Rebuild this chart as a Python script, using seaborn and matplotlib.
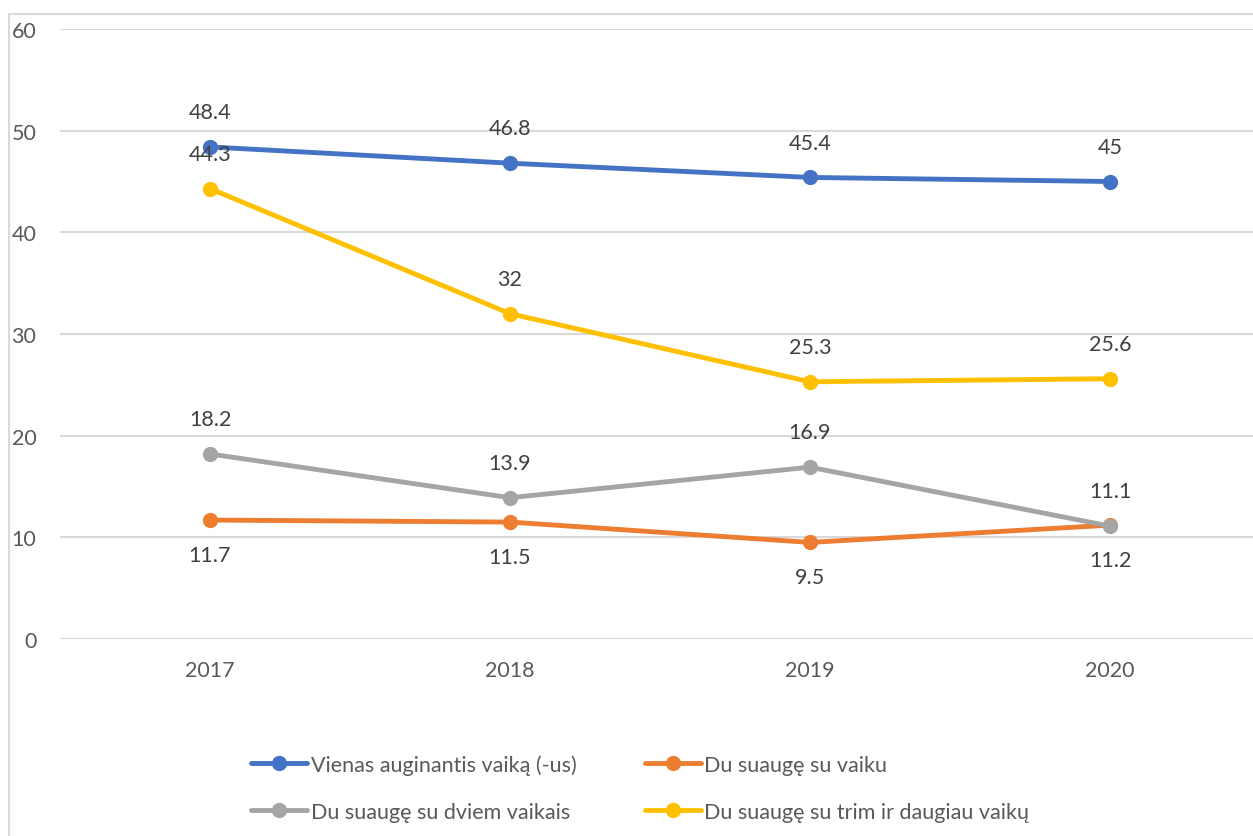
import pandas as pd
import matplotlib.pyplot as plt
import seaborn as sns
from matplotlib.lines import Line2D
from matplotlib.patches import Rectangle

# Data
years = ['2017', '2018', '2019', '2020']
series_names = [
    'Vienas auginantis vaiką (-us)',
    'Du suaugę su vaiku',
    'Du suaugę su dviem vaikais',
    'Du suaugę su trim ir daugiau vaikų',
]
single_parent = [48.4, 46.8, 45.4, 45]
two_adults_one_child = [11.7, 11.5, 9.5, 11.2]
two_adults_two_children = [18.2, 13.9, 16.9, 11.1]
two_adults_three_plus = [44.3, 32, 25.3, 25.6]

colors = ['#4472C4', '#ED7D31', '#A5A5A5', '#FFC000']
label_below = [False, True, False, False]  # orange labels sit under the points

all_values = [single_parent, two_adults_one_child, two_adults_two_children, two_adults_three_plus]
df = pd.DataFrame({
    'Year': years * 4,
    'Value': [v for vals in all_values for v in vals],
    'Series': [name for name in series_names for _ in years],
})

sns.set_style('white')
plt.rcParams['font.family'] = ['Lato', 'DejaVu Sans']
text_color = '#595959'

fig = plt.figure(figsize=(12.53, 8.37), dpi=100)
ax = fig.add_axes([60 / 1253, 1 - 640 / 837, 1200 / 1253, 610 / 837])

# chart border (Excel-like)
fig.patches.append(Rectangle((9 / 1253, -0.1), 1.2, 1 - 15 / 837 + 0.1,
                             transform=fig.transFigure, fill=False,
                             edgecolor='#D9D9D9', linewidth=1.5, zorder=0))

sns.lineplot(data=df, x='Year', y='Value', hue='Series', hue_order=series_names,
             palette=colors, marker='o', markersize=11, markeredgewidth=0,
             linewidth=3.5, legend=False, ax=ax, sort=False)

# data labels
for vals, below in zip(all_values, label_below):
    for i, v in enumerate(vals):
        ax.annotate(f'{v:g}', xy=(i, v), xytext=(0, -25 if below else 25),
                    textcoords='offset points', ha='center', va='center',
                    fontsize=15.5, color='#404040')

ax.set_ylim(0, 60)
ax.set_xlim(-0.5, 3.5)
ax.set_yticks(range(0, 61, 10))
ax.yaxis.grid(True, color='#D9D9D9', linewidth=1.5)
ax.xaxis.grid(False)
for s in ax.spines.values():
    s.set_visible(False)
ax.tick_params(axis='both', length=0, labelsize=15.5, labelcolor=text_color)
ax.tick_params(axis='y', pad=17)
ax.tick_params(axis='x', pad=15)
ax.set_xlabel('')
ax.set_ylabel('')

# legend: two columns, row order matches the original
order = [0, 2, 1, 3]
handles = [Line2D([], [], color=colors[k], marker='o', markersize=11,
                  markeredgewidth=0, linewidth=3.5) for k in order]
labels = [series_names[k] for k in order]
fig.legend(handles, labels, loc='center left', bbox_to_anchor=(232 / 1253, 1 - 789 / 837),
           ncol=2, frameon=False, fontsize=15.5, labelcolor=text_color,
           handlelength=2.6, handletextpad=0.15, columnspacing=3.2, labelspacing=1.25)

fig.savefig('out.png', dpi=100)
